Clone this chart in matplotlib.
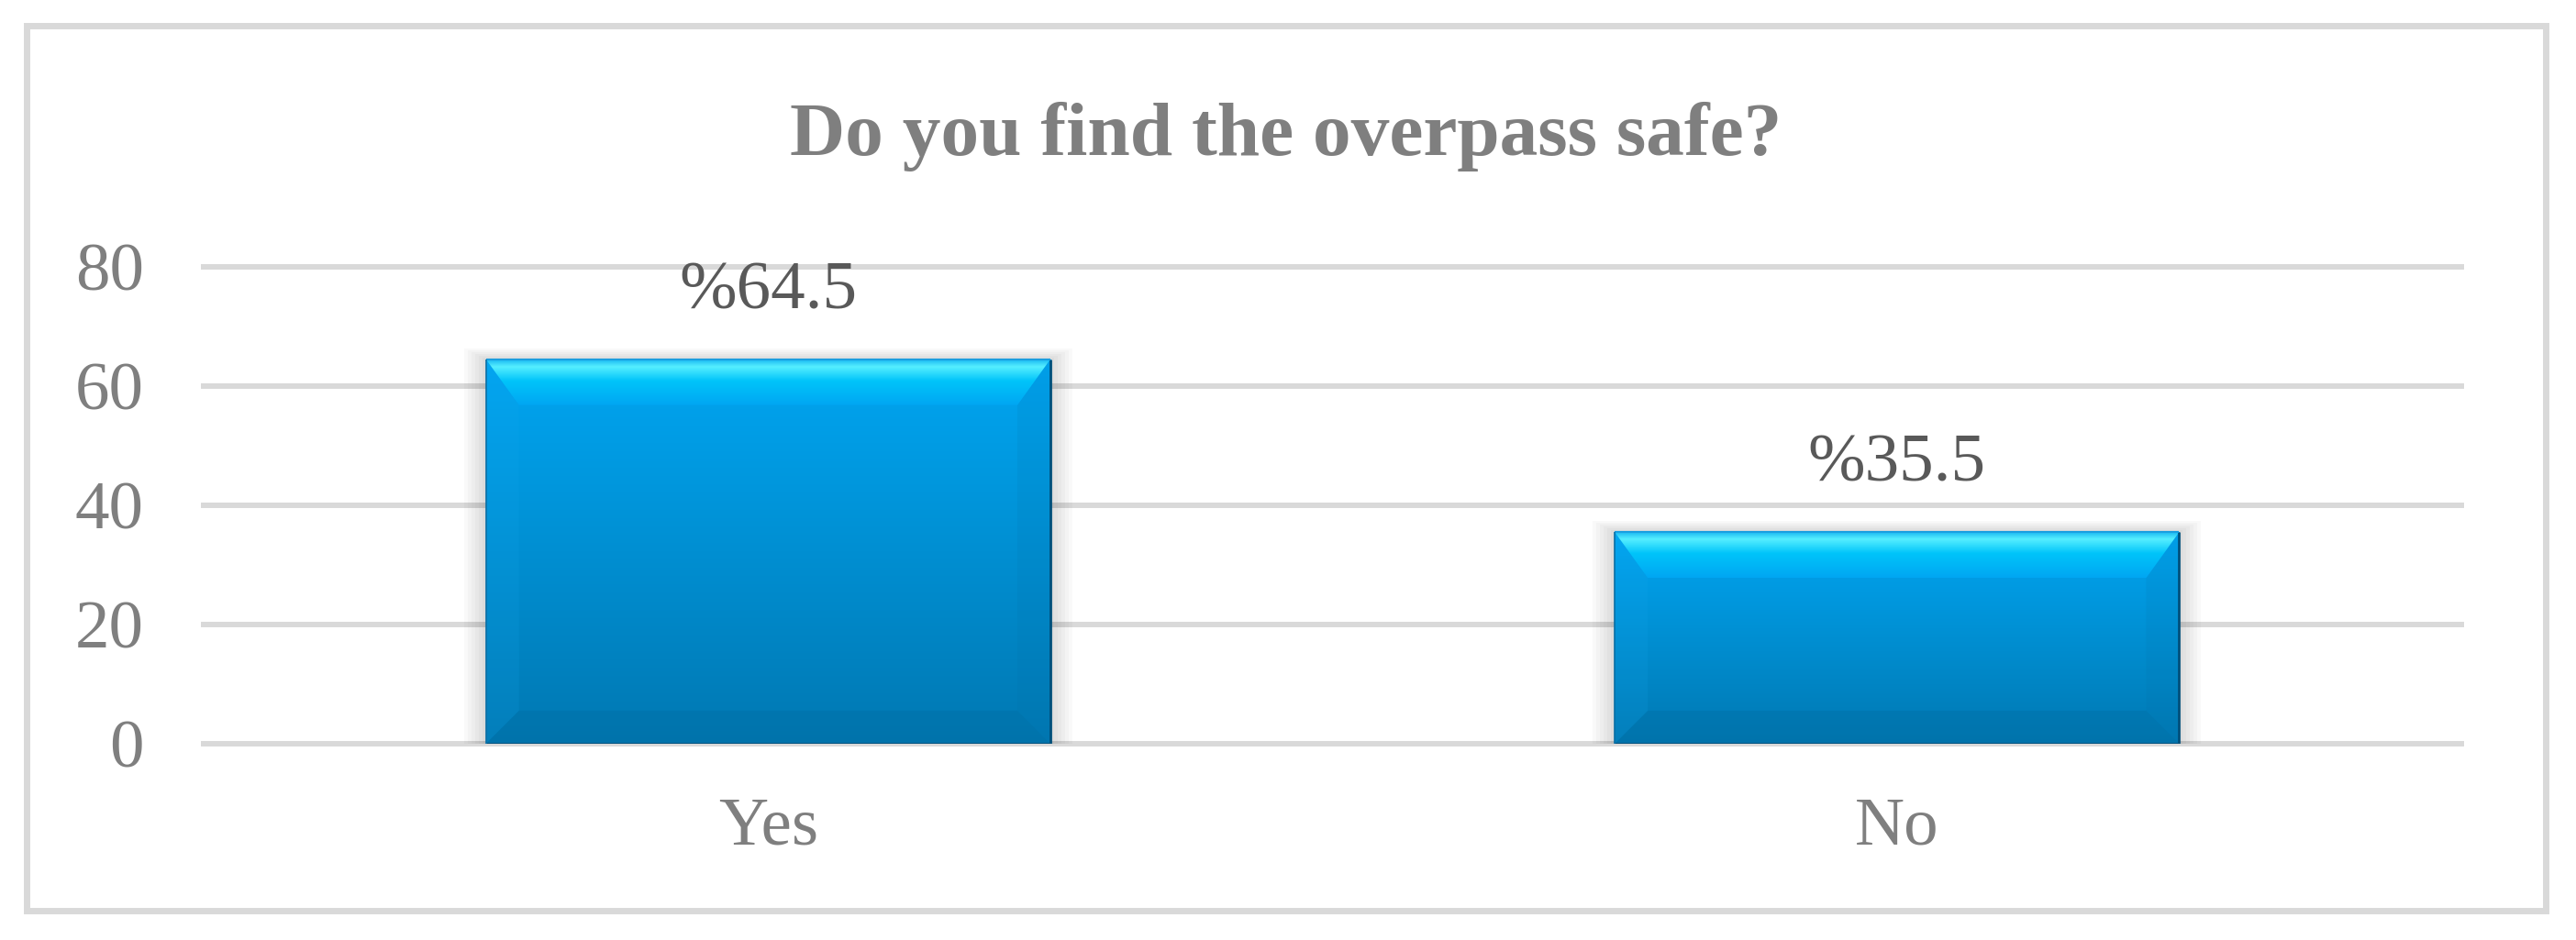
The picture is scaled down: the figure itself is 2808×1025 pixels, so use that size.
import numpy as np
import matplotlib
matplotlib.use("Agg")
import matplotlib.pyplot as plt
from matplotlib.patches import Rectangle, Polygon

# survey answers
categories = ["Yes", "No"]
values = [64.5, 35.5]
yticks = [0, 20, 40, 60, 80]

plt.rcParams['font.family'] = ['Liberation Serif', 'DejaVu Serif']

fig = plt.figure(figsize=(28.08, 10.25), dpi=100)
fig.patch.set_facecolor('white')
ax = fig.add_axes([0.0791, 0.2088, 0.8764, 0.5073])

x = np.arange(len(categories))
bars = ax.bar(x, values, width=0.5, color='#0093dd', edgecolor='none', zorder=3)

ax.set_xlim(-0.5, len(categories) - 0.5)
ax.set_ylim(0, 80)
ax.set_yticks(yticks)
ax.set_xticks(x)
ax.set_xticklabels(categories)
ax.tick_params(axis='both', length=0, labelsize=54, labelcolor='#7f7f7f')
ax.tick_params(axis='y', pad=47)
ax.tick_params(axis='x', pad=42)
for s in ax.spines.values():
    s.set_visible(False)
ax.yaxis.grid(True, color='#d9d9d9', linewidth=4.3, clip_on=False, zorder=0)
ax.set_axisbelow(True)

# pixel -> data sizes, for the bevel look
pos = ax.get_position()
W, H = fig.get_size_inches() * fig.dpi
px_x = (ax.get_xlim()[1] - ax.get_xlim()[0]) / (pos.width * W)
px_y = (ax.get_ylim()[1] - ax.get_ylim()[0]) / (pos.height * H)

def grad_img(c_top, c_bot, n=256):
    a = np.array(matplotlib.colors.to_rgb(c_top))
    b = np.array(matplotlib.colors.to_rgb(c_bot))
    t = np.linspace(0, 1, n)[:, None]
    return (a * (1 - t) + b * t)[:, None, :]

for b in bars:
    x0, y0 = b.get_x(), b.get_y()
    w, h = b.get_width(), b.get_height()
    x1, y1 = x0 + w, y0 + h

    # soft shadow
    for k in range(1, 7):
        ax.add_patch(Rectangle((x0 - k * 4 * px_x, y0), w + k * 8 * px_x, h + k * 2 * px_y,
                               facecolor='#000000', alpha=0.025, edgecolor='none', zorder=2))

    # main gradient body
    im = ax.imshow(grad_img('#00a6f2', '#0078b2'), extent=[x0, x1, y0, y1],
                   aspect='auto', zorder=4, interpolation='bilinear')
    im.set_clip_path(b)

    bt, bs, bb = 50 * px_y, 36 * px_x, 36 * px_y
    # bevels: left, right, bottom, top
    left = Polygon([(x0, y0), (x0, y1), (x0 + bs, y1 - bt), (x0 + bs, y0 + bb)],
                   facecolor='#1aa8ee', alpha=0.15, edgecolor='none', zorder=5)
    right = Polygon([(x1, y0), (x1, y1), (x1 - bs, y1 - bt), (x1 - bs, y0 + bb)],
                    facecolor='#006ea6', alpha=0.12, edgecolor='none', zorder=5)
    bottom = Polygon([(x0, y0), (x1, y0), (x1 - bs, y0 + bb), (x0 + bs, y0 + bb)],
                     facecolor='#006a9e', alpha=0.3, edgecolor='none', zorder=5)
    ax.add_patch(left)
    ax.add_patch(right)
    ax.add_patch(bottom)
    top = Polygon([(x0, y1), (x1, y1), (x1 - bs, y1 - bt), (x0 + bs, y1 - bt)],
                  facecolor='none', edgecolor='none', zorder=6)
    ax.add_patch(top)
    # bright band near the top of the bevel
    band = np.concatenate([grad_img('#1ab8f2', '#55eeff', 40), grad_img('#55eeff', '#00c4fa', 80),
                           grad_img('#00c4fa', '#00a6f2', 136)])
    imt = ax.imshow(band, extent=[x0, x1, y1 - bt, y1],
                    aspect='auto', zorder=6, interpolation='bilinear')
    imt.set_clip_path(top)

    # thin dark edges right/bottom
    ax.plot([x1, x1], [y0, y1], color='#004f7a', lw=2.0, zorder=7, solid_capstyle='butt')
    ax.plot([x0, x1], [y0, y0], color='#004f7a', lw=2.0, zorder=7, solid_capstyle='butt')
    ax.plot([x0, x1], [y1, y1], color='#1a9fe0', lw=1.5, zorder=7, solid_capstyle='butt')
    ax.plot([x0, x0], [y0, y1], color='#0a6fa5', lw=1.2, zorder=7, solid_capstyle='butt')

    ax.annotate('%' + f'{h:g}', xy=(b.get_x() + w / 2, y1), xytext=(0, 40),
                textcoords='offset points', ha='center', va='baseline',
                fontsize=54, color='#595959', zorder=8)

fig.text(0.4993, 0.835, 'Do you find the overpass safe?', ha='center', va='baseline',
         fontsize=60, fontweight='bold', color='#7f7f7f')

# outer chart border
fig.patches.append(Rectangle((0.0105, 0.0312), 0.9778, 0.941, transform=fig.transFigure,
                             facecolor='none', edgecolor='#d9d9d9', linewidth=5, zorder=0))

fig.savefig('out.png', dpi=100, facecolor='white')
